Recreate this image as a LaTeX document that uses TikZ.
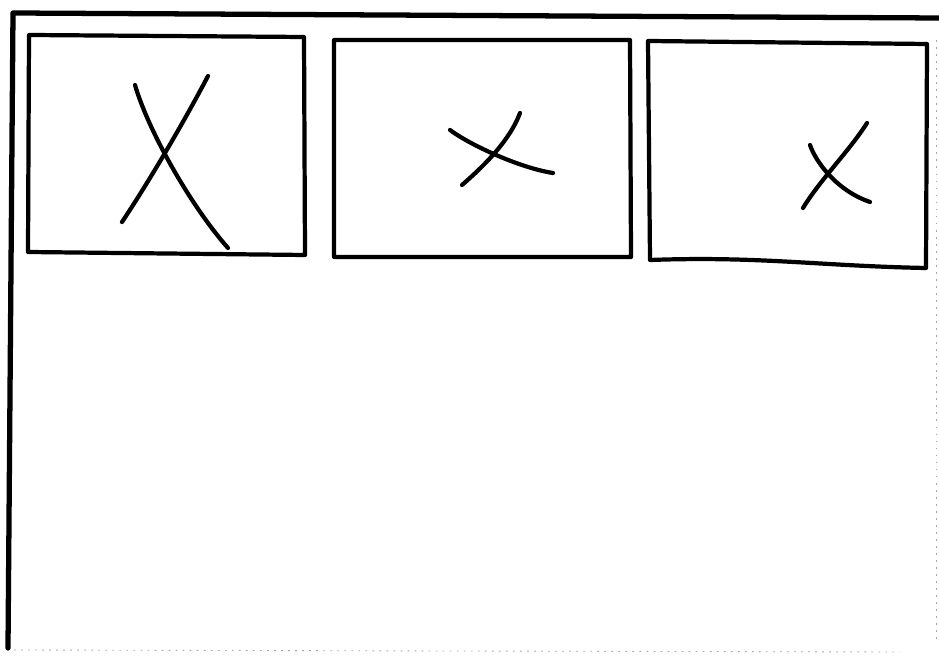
\documentclass[tikz,border=0pt]{standalone}
\usepackage{tikz}

\begin{document}
\begin{tikzpicture}[x=0.02cm, y=-0.02cm,
    pen/.style={line width=2.4pt, line cap=round, line join=round},
    thickpen/.style={line width=3pt, line cap=round, line join=round},
    faint/.style={line width=0.5pt, black!35, dash pattern=on 1pt off 3pt}]

  \useasboundingbox (0,0) rectangle (939,661);

  % outer sheet: strong top and left edge, scanned-out right and bottom
  \draw[thickpen] (939,18) -- (13,13) -- (8,648);
  \draw[faint] (936,40) -- (936,640);
  \draw[faint] (14,650) -- (900,652);

  % three panels
  \draw[pen] (29,35) -- (304,37) -- (305,255) -- (28,252) -- cycle;
  \draw[pen] (334,40) -- (630,40) -- (631,257) -- (334,257) -- cycle;
  \draw[pen] (648,41) -- (927,44) -- (926,268)
    .. controls (820,266) and (760,256) .. (650,260) -- cycle;

  % crosses
  \draw[pen] (135,85) .. controls (148,130) and (190,205) .. (228,248);
  \draw[pen] (208,76) .. controls (185,120) and (150,180) .. (122,222);

  \draw[pen] (450,130) .. controls (470,145) and (520,168) .. (553,173);
  \draw[pen] (520,113) .. controls (510,140) and (485,165) .. (462,185);

  \draw[pen] (810,145) .. controls (815,160) and (835,190) .. (870,202);
  \draw[pen] (867,123) .. controls (850,150) and (820,180) .. (803,208);

\end{tikzpicture}
\end{document}
